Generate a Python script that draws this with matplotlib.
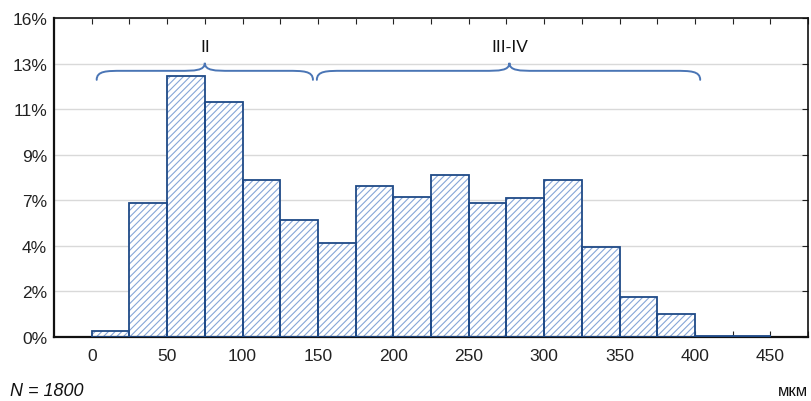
import numpy as np
import matplotlib
matplotlib.use('Agg')
from matplotlib import pyplot as plt
from matplotlib.path import Path
from matplotlib.patches import PathPatch

# histogram bins (мкм) and share of grains, %
bin_left = [0, 25, 50, 75, 100, 125, 150, 175, 200, 225, 250, 275, 300, 325, 350, 375, 400, 425]
share = [0.29, 6.52, 12.72, 11.46, 7.67, 5.69, 4.58, 7.35, 6.85, 7.88, 6.52, 6.80, 7.65, 4.41, 1.97, 1.12, 0.056, 0.056]
bin_width = 25

N = 1800
# y ticks are counts 0, 40, ... 280 shown as percent
tick_counts = [0, 40, 80, 120, 160, 200, 240, 280]
tick_labels = ['0%', '2%', '4%', '7%', '9%', '11%', '13%', '16%']
x_labels = [0, 50, 100, 150, 200, 250, 300, 350, 400, 450]

# braces: (start, tip, end, label)
groups = [(3.3, 75, 146.7, 'II'), (149.3, 277, 403.5, 'III-IV')]

plt.rcParams['font.family'] = ['Liberation Sans', 'DejaVu Sans']
plt.rcParams['hatch.linewidth'] = 0.8

edge = '#1f4a87'
hatch_col = '#86a6d8'
brace_col = '#4a75b5'

fig = plt.figure(figsize=(8.11, 4.02), dpi=100)
ax = fig.add_axes([0.0666, 0.1592, 0.9297, 0.7935])

yticks = [c / N * 100 for c in tick_counts]

ax.bar(bin_left, share, width=bin_width, align='edge', color='white',
       edgecolor=hatch_col, hatch='/////', linewidth=0, zorder=2)
ax.bar(bin_left, share, width=bin_width, align='edge', fill=False,
       edgecolor=edge, linewidth=1.3, zorder=3)

ax.set_xlim(-25, 475)
ax.set_ylim(0, yticks[-1])
ax.set_yticks(yticks)
ax.set_yticklabels(tick_labels)
ax.set_xticks(np.arange(0, 476, 25))
ax.set_xticklabels([str(v) if v in x_labels else '' for v in np.arange(0, 476, 25)])
ax.tick_params(axis='x', top=True, bottom=True, direction='in', length=4,
               labelsize=12.5, pad=8, colors='#222222', labelcolor='#222222')
ax.tick_params(axis='y', left=False, right=True, direction='in', length=4,
               labelsize=12.5, pad=5, colors='#222222', labelcolor='#222222')
ax.grid(axis='y', color='#d9d9d9', linewidth=1, zorder=0)
ax.set_axisbelow(True)
for s in ax.spines.values():
    s.set_linewidth(1.2)
    s.set_color('#111111')
ax.spines['left'].set_linewidth(1.6)
ax.spines['bottom'].set_linewidth(1.6)


def brace(x0, xm, x1, y_end=12.54, y_flat=12.98, y_tip=13.37, w=17):
    verts = [
        (x0, y_end),
        (x0, y_flat), (x0 + w * 0.4, y_flat), (x0 + w, y_flat),
        (xm - w, y_flat),
        (xm - w * 0.4, y_flat), (xm, y_flat), (xm, y_tip),
        (xm, y_flat), (xm + w * 0.4, y_flat), (xm + w, y_flat),
        (x1 - w, y_flat),
        (x1 - w * 0.4, y_flat), (x1, y_flat), (x1, y_end),
    ]
    codes = [Path.MOVETO] + [Path.CURVE4] * 3 + [Path.LINETO] + [Path.CURVE4] * 6 \
        + [Path.LINETO] + [Path.CURVE4] * 3
    return PathPatch(Path(verts, codes), fill=False, edgecolor=brace_col,
                     linewidth=1.4, zorder=4, capstyle='round')


for x0, xm, x1, label in groups:
    ax.add_patch(brace(x0, xm, x1))
    ax.text(xm, 14.15, label, ha='center', va='center', fontsize=12.5, color='#111111')

fig.text(10 / 811, 2 / 402, 'N = 1800', fontsize=13, style='italic',
         ha='left', va='bottom', color='#111111')
fig.text(808 / 811, 1 - 392 / 402, 'мкм', fontsize=12, ha='right', va='center',
         color='#111111')

fig.savefig('out.png', dpi=100)
